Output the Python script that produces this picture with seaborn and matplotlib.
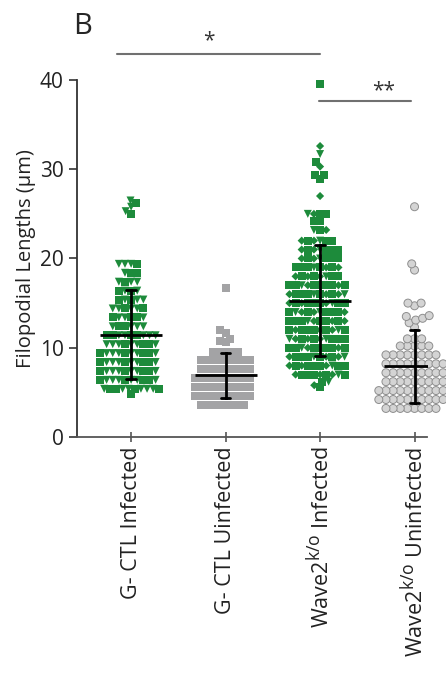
import numpy as np
import pandas as pd
import seaborn as sns
import matplotlib.pyplot as plt
import matplotlib._mathtext as mathtext_internals
from matplotlib.markers import MarkerStyle
from matplotlib.transforms import Affine2D

sns.set_style("ticks")
plt.rcParams["font.family"] = ["Open Sans", "DejaVu Sans"]
plt.rcParams["mathtext.fontset"] = "custom"
plt.rcParams["mathtext.rm"] = "Open Sans"
mathtext_internals.SHRINK_FACTOR = 0.82  # bigger superscript, like the figure's "k/o"

groups = ["G- CTL Infected", "G- CTL Uinfected", "Wave2k/o Infected", "Wave2k/o Uninfected"]
tick_labels = ["G- CTL Infected", "G- CTL Uinfected",
               r"Wave2$^{\mathregular{k/o}}$ Infected", r"Wave2$^{\mathregular{k/o}}$ Uninfected"]

# filopodial lengths (um): value rows + number of points on each row
ctl_inf_levels = [4.8, 5.4, 6.4, 7.4, 8.4, 9.4, 10.4, 11.4, 12.4, 13.4, 14.4, 15.4,
                  16.4, 17.4, 18.4, 19.4, 25.0, 25.3, 25.8, 26.2, 26.5]
ctl_inf_counts = [1, 10, 10, 10, 10, 10, 9, 9, 6, 6, 6, 5,
                  4, 4, 3, 4, 1, 1, 1, 1, 1]

ctl_uninf_levels = [3.6, 4.6, 5.6, 6.6, 7.6, 8.6, 9.5, 10.6, 10.8, 11.0, 11.7, 12.0, 16.7]
ctl_uninf_counts = [8, 10, 10, 10, 9, 9, 5, 1, 1, 1, 1, 1, 1]

ko_inf_levels = [5.6, 5.8, 6.2, 7.0, 8.0, 9.0, 10.0, 11.0, 12.0, 13.0, 14.0, 15.0, 16.0, 17.0,
                 18.0, 19.0, 20.0, 21.0, 22.0, 23.2, 24.2, 25.0,
                 27.0, 28.9, 29.3, 29.4, 30.3, 30.8, 31.7, 32.6, 39.5]
ko_inf_counts = [1, 1, 2, 9, 10, 10, 10, 10, 10, 10, 10, 10, 10, 10,
                 8, 8, 7, 7, 6, 3, 2, 4,
                 1, 1, 1, 1, 1, 1, 1, 1, 1]

ko_uninf_levels = [3.2, 4.2, 5.2, 6.2, 7.2, 8.2, 9.2, 10.2, 11.0,
                   12.3, 12.8, 13.1, 13.3, 13.5, 13.6, 14.7, 15.0, 18.7, 19.4, 25.8]
ko_uninf_counts = [8, 10, 10, 9, 9, 9, 8, 5, 3,
                   1, 1, 1, 1, 1, 1, 1, 2, 1, 1, 1]

levels = [ctl_inf_levels, ctl_uninf_levels, ko_inf_levels, ko_uninf_levels]
counts = [ctl_inf_counts, ctl_uninf_counts, ko_inf_counts, ko_uninf_counts]
df = pd.concat([pd.DataFrame({"group": g, "value": np.repeat(lv, ct)})
                for g, lv, ct in zip(groups, levels, counts)], ignore_index=True)

green = "#1d8b3b"
styles = {
    groups[0]: dict(color=green, marker="s", cycle=["s", "v", "s", "v", "v"], lw=0, ec="none"),
    groups[1]: dict(color="#a3a3a5", marker="s", cycle=["s"], lw=0, ec="none"),
    groups[2]: dict(color=green, marker="s", cycle=["s", "D", "s", "v", "D", "s", "s"], lw=0, ec="none"),
    groups[3]: dict(color="#d4d4d4", marker="o", cycle=["o"], lw=0.7, ec="#8e8e8e"),
}
grow = 1.37  # markers are drawn bigger than the swarm spacing, so they overlap like the original


def marker_path(m):
    ms = MarkerStyle(m)
    scale = grow * (0.72 if m == "D" else 1.0)
    return ms.get_path().transformed(ms.get_transform() + Affine2D().scale(scale))


fig, ax = plt.subplots(figsize=(4.46, 6.75), dpi=100)
fig.subplots_adjust(left=0.1726, right=0.957, bottom=0.3526, top=0.8815)

for g in groups:
    st = styles[g]
    n0 = len(ax.collections)
    sns.swarmplot(data=df[df["group"] == g], x="group", y="value", order=groups,
                  color=st["color"], marker=st["marker"], size=4.2, linewidth=st["lw"],
                  edgecolor=st["ec"], warn_thresh=1, zorder=3, ax=ax)
    for coll in ax.collections[n0:]:
        n = len(coll.get_offsets())
        if n:
            coll.set_paths([marker_path(st["cycle"][i % len(st["cycle"])]) for i in range(n)])
            coll.set_clip_on(False)

# mean +/- SD
sns.pointplot(data=df, x="group", y="value", order=groups, errorbar="sd", color="black",
              markers="_", markersize=45, markeredgewidth=2.0, linestyle="none",
              capsize=0.1, err_kws={"linewidth": 2.0, "zorder": 5}, zorder=5, ax=ax)

ax.set_xlim(-0.573, 3.13)
ax.set_ylim(0, 40)
ax.set_yticks([0, 10, 20, 30, 40])
ax.set_xticks(range(4))
ax.set_xticklabels(tick_labels, rotation=90, fontsize=15.5, color="#222222")
ax.tick_params(axis="y", labelsize=15, length=6, width=1.2, color="#333333",
               labelcolor="#222222", direction="out")
ax.tick_params(axis="x", length=7, width=1.2, color="#555555", direction="inout")
ax.set_xlabel("")
ax.set_ylabel("Filopodial Lengths (μm)", fontsize=14.5, labelpad=3, color="#222222")
sns.despine(ax=ax)
ax.spines["left"].set_color("#333333")
ax.spines["left"].set_linewidth(1.3)
ax.spines["bottom"].set_color("#555555")
ax.spines["bottom"].set_linewidth(1.3)

# significance bars
ax.plot([-0.148, 2.0], [42.9, 42.9], color="#707070", lw=1.5, clip_on=False)
ax.text(0.82, 44.4, "*", ha="center", va="center", fontsize=15, color="#333333")
ax.plot([1.99, 2.96], [37.6, 37.6], color="#707070", lw=1.5, clip_on=False)
ax.text(2.67, 38.8, "**", ha="center", va="center", fontsize=15, color="#333333")

fig.text(0.163, 0.9496, "B", fontsize=21, ha="left", va="baseline")

fig.savefig("out.png", dpi=100)
